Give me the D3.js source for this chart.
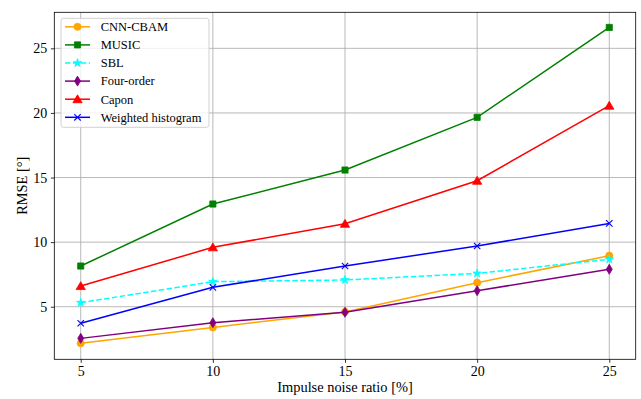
<!DOCTYPE html>
<html><head><meta charset="utf-8">
<script src="https://cdn.jsdelivr.net/npm/d3@7"></script>
<style>
body{margin:0;background:#fff}svg{display:block}
text{font-family:"Liberation Serif","Times New Roman","DejaVu Serif",serif;fill:#000}
</style>
</head><body>
<script>
const noiseRatio = [5, 10, 15, 20, 25];
const cnnCbam   = [2.17, 3.40, 4.60, 6.86, 8.95];
const music     = [8.15, 12.95, 15.58, 19.66, 26.62];
const sbl       = [5.31, 6.94, 7.07, 7.58, 8.67];
const fourOrder = [2.55, 3.76, 4.57, 6.24, 7.90];
const capon     = [6.60, 9.60, 11.42, 14.75, 20.56];
const weighted  = [3.72, 6.50, 8.15, 9.70, 11.45];
const xTicks = [5, 10, 15, 20, 25];
const yTicks = [5, 10, 15, 20, 25];

const series = [
  {name: "CNN-CBAM", values: cnnCbam, color: "#FFA500", marker: "circle", dash: null},
  {name: "MUSIC", values: music, color: "#008000", marker: "square", dash: null},
  {name: "SBL", values: sbl, color: "#00FFFF", marker: "star", dash: "5.5,2.4"},
  {name: "Four-order", values: fourOrder, color: "#800080", marker: "thindiamond", dash: null},
  {name: "Capon", values: capon, color: "#FF0000", marker: "triangle", dash: null},
  {name: "Weighted histogram", values: weighted, color: "#0000FF", marker: "x", dash: null}
];

const W = 641, H = 399;
const m = {left: 54.3, right: 641 - 635.7, top: 12.3, bottom: 399 - 359.3};
const svg = d3.select("body").append("svg").attr("width", W).attr("height", H);
const font = '"Liberation Serif","Times New Roman","DejaVu Serif",serif';

const x = d3.scaleLinear().domain([4, 26]).range([m.left, W - m.right]);
const y = d3.scaleLinear().domain([0.93, 27.79]).range([H - m.bottom, m.top]);

// grid
const g = svg.append("g");
g.selectAll(".gx").data(xTicks).enter().append("line")
  .attr("x1", d => x(d)).attr("x2", d => x(d)).attr("y1", y.range()[0]).attr("y2", y.range()[1])
  .attr("stroke", "#b0b0b0").attr("stroke-width", 0.9);
g.selectAll(".gy").data(yTicks).enter().append("line")
  .attr("y1", d => y(d)).attr("y2", d => y(d)).attr("x1", x.range()[0]).attr("x2", x.range()[1])
  .attr("stroke", "#b0b0b0").attr("stroke-width", 0.9);

// axes
const xAxis = svg.append("g").attr("transform", `translate(0,${H - m.bottom})`)
  .call(d3.axisBottom(x).tickValues(xTicks).tickSize(3.5).tickPadding(3.2).tickFormat(d3.format("d")));
const yAxis = svg.append("g").attr("transform", `translate(${m.left},0)`)
  .call(d3.axisLeft(y).tickValues(yTicks).tickSize(3.5).tickPadding(3.5).tickFormat(d3.format("d")));
[xAxis, yAxis].forEach(a => {
  a.attr("font-family", null).attr("font-size", null);
  a.select(".domain").remove();
  a.selectAll("text").style("font-family", font).style("font-size", "14px").style("fill", "#000");
  a.selectAll("line").attr("stroke", "#000").attr("stroke-width", 0.8);
});

// lines and markers
const line = d3.line().x((d, i) => x(noiseRatio[i])).y(d => y(d));

function markerPath(type) {
  switch (type) {
    case "circle": return d3.symbol(d3.symbolCircle, 40)();
    case "square": return d3.symbol(d3.symbolSquare, 38)();
    case "star": return d3.symbol(d3.symbolStar, 22)();
    case "triangle": {
      const s = 4.4;
      return `M0,${-s}L${s*1.05},${s*0.8}L${-s*1.05},${s*0.8}Z`;
    }
    case "thindiamond": return "M0,-5L3,0L0,5L-3,0Z";
    case "x": return "M-3.2,-3.2L3.2,3.2M-3.2,3.2L3.2,-3.2";
  }
}
function drawMarker(sel, s) {
  const p = sel.append("path").attr("d", markerPath(s.marker));
  if (s.marker === "x") p.attr("fill", "none").attr("stroke", s.color).attr("stroke-width", 1.1);
  else p.attr("fill", s.color).attr("stroke", s.color).attr("stroke-width", 0.8);
}

series.forEach(s => {
  svg.append("path").datum(s.values).attr("d", line)
    .attr("fill", "none").attr("stroke", s.color).attr("stroke-width", 1.5)
    .attr("stroke-dasharray", s.dash);
  s.values.forEach((v, i) => {
    const gm = svg.append("g").attr("transform", `translate(${x(noiseRatio[i])},${y(v)})`);
    drawMarker(gm, s);
  });
});

// frame
svg.append("rect").attr("x", m.left).attr("y", m.top)
  .attr("width", x.range()[1] - m.left).attr("height", y.range()[0] - m.top)
  .attr("fill", "none").attr("stroke", "#000").attr("stroke-width", 0.8);

// legend
const lg = svg.append("g");
lg.append("rect").attr("x", 61).attr("y", 18.3).attr("width", 148).attr("height", 109)
  .attr("rx", 2.5).attr("fill", "#fff").attr("fill-opacity", 0.8)
  .attr("stroke", "#cccccc").attr("stroke-width", 0.9);
series.forEach((s, i) => {
  const cy = 26.8 + i * 18.1;
  lg.append("line").attr("x1", 65).attr("x2", 90).attr("y1", cy).attr("y2", cy)
    .attr("stroke", s.color).attr("stroke-width", 1.5).attr("stroke-dasharray", s.dash);
  drawMarker(lg.append("g").attr("transform", `translate(77.5,${cy})`), s);
  lg.append("text").attr("x", 100.7).attr("y", cy).attr("dy", "0.35em")
    .style("font-family", font).style("font-size", "12.5px").text(s.name);
});

// axis labels
svg.append("text").attr("x", (m.left + x.range()[1]) / 2).attr("y", 391.5)
  .attr("text-anchor", "middle").style("font-family", font).style("font-size", "14.4px")
  .text("Impulse noise ratio [%]");
svg.append("text").attr("transform", `translate(27,${(m.top + y.range()[0]) / 2}) rotate(-90)`)
  .attr("text-anchor", "middle").style("font-family", font).style("font-size", "14.4px")
  .text("RMSE [°]");
</script>
</body></html>
